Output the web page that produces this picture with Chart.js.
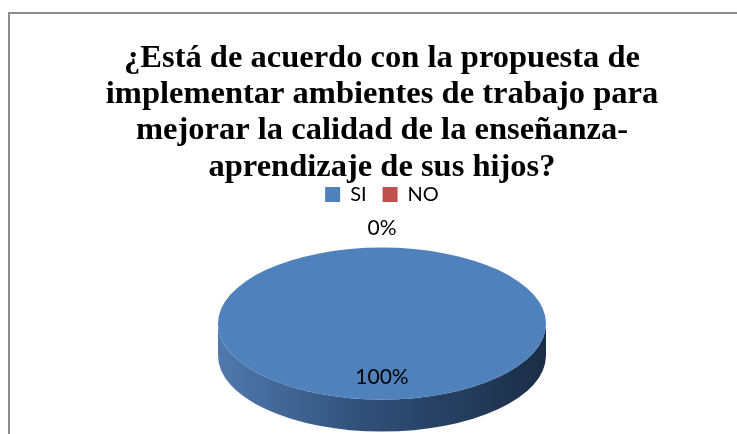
<!DOCTYPE html>
<html>
<head>
<meta charset="utf-8">
<script src="https://cdn.jsdelivr.net/npm/chart.js@4"></script>
<style>
  html, body { margin: 0; padding: 0; background: #fff; }
  #wrap { position: relative; width: 737px; height: 434px; overflow: hidden; }
  #frame { position: absolute; left: 8px; top: 12px; width: 800px; height: 500px;
           border-left: 2px solid #8c8c8c; border-top: 2px solid #8c8c8c; }
  canvas { position: absolute; left: 0; top: 0; }
</style>
</head>
<body>
<div id="wrap">
  <div id="frame"></div>
  <canvas id="myChart" width="737" height="434"></canvas>
</div>
<script>
// Chart data
const categories = ['SI', 'NO'];
const values = [100, 0];
const colors = ['#4F81BD', '#C0504D'];
const titleLines = [
    '¿Está de acuerdo con la propuesta de',
    'implementar ambientes de trabajo para',
    'mejorar la calidad de la enseñanza-',
    'aprendizaje de sus hijos?'
];

// look of the flattened "3D" pie
const pieLook = { rx: 164, ry: 76, depth: 32, gap: 33 };

function pieTransform(chart) {
    const arc = chart.getDatasetMeta(0).data[0];
    const r = arc.outerRadius;
    const area = chart.chartArea;
    return {
        x0: arc.x, y0: arc.y, r: r,
        ex: arc.x, ey: area.top + pieLook.gap + pieLook.ry,
        sx: pieLook.rx / r, sy: pieLook.ry / r
    };
}

const pie3d = {
    id: 'pie3d',
    beforeDatasetsDraw(chart) {
        const ctx = chart.ctx;
        const t = pieTransform(chart);
        const rx = pieLook.rx, ry = pieLook.ry, d = pieLook.depth;
        // side wall
        const grad = ctx.createLinearGradient(t.ex - rx, 0, t.ex + rx, 0);
        grad.addColorStop(0, '#5079ad');
        grad.addColorStop(0.45, '#304f78');
        grad.addColorStop(1, '#1b2d46');
        ctx.save();
        ctx.beginPath();
        ctx.ellipse(t.ex, t.ey, rx, ry, 0, 0, Math.PI, false);
        ctx.lineTo(t.ex - rx, t.ey + d);
        ctx.ellipse(t.ex, t.ey + d, rx, ry, 0, Math.PI, 0, true);
        ctx.closePath();
        ctx.fillStyle = grad;
        ctx.fill();
        ctx.restore();
        // squash the top face
        ctx.save();
        ctx.translate(t.ex, t.ey);
        ctx.scale(t.sx, t.sy);
        ctx.translate(-t.x0, -t.y0);
    },
    afterDatasetsDraw(chart) {
        const ctx = chart.ctx;
        ctx.restore();
        const t = pieTransform(chart);
        const total = values.reduce(function(a, b) { return a + b; }, 0);
        ctx.save();
        ctx.font = '21px Lato';
        ctx.fillStyle = '#000';
        ctx.textAlign = 'center';
        ctx.textBaseline = 'middle';
        chart.getDatasetMeta(0).data.forEach(function(arc, i) {
            const pct = Math.round(values[i] / total * 100) + '%';
            const mid = (arc.startAngle + arc.endAngle) / 2;
            let x, y;
            if (values[i] === 0) {
                // empty slice: label outside the rim
                x = t.ex + Math.cos(mid) * pieLook.rx;
                y = t.ey + Math.sin(mid) * pieLook.ry - 19;
            } else {
                x = t.ex + Math.cos(mid) * pieLook.rx * 0.7;
                y = t.ey + Math.sin(mid) * pieLook.ry * 0.7;
            }
            ctx.fillText(pct, x, y);
        });
        ctx.restore();
    }
};

const data = {
    labels: categories,
    datasets: [{
        data: values,
        backgroundColor: colors,
        borderWidth: 0
    }]
};

const config = {
    type: 'pie',
    data: data,
    plugins: [pie3d],
    options: {
        responsive: false,
        animation: false,
        events: [],
        layout: { padding: { left: 27, right: 0, top: 0, bottom: 0 } },
        plugins: {
            title: {
                display: true,
                text: titleLines,
                color: '#000',
                font: { family: 'Liberation Serif', size: 32.5, weight: 'bold', lineHeight: 1.12 },
                padding: { top: 40, bottom: -17 }
            },
            legend: {
                position: 'top',
                labels: {
                    color: '#000',
                    font: { family: 'Lato', size: 20 },
                    boxWidth: 15,
                    boxHeight: 15,
                    padding: 16
                }
            },
            tooltip: { enabled: false }
        }
    }
};

const myChart = new Chart(document.getElementById('myChart'), config);
</script>
</body>
</html>
